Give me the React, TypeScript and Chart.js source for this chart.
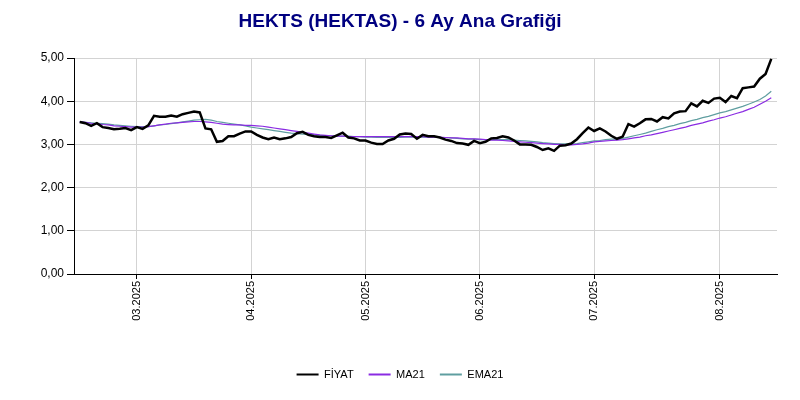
import { useEffect, useRef } from "react";
import { Chart, registerables } from "chart.js";

Chart.register(...registerables);

const titleText = "HEKTS (HEKTAS) - 6 Ay Ana Grafiği";

const priceValues = [
  3.52, 3.49, 3.43, 3.49, 3.40, 3.38, 3.35, 3.36, 3.38, 3.33,
  3.40, 3.36, 3.44, 3.66, 3.64, 3.64, 3.67, 3.64, 3.70, 3.73,
  3.76, 3.74, 3.37, 3.35, 3.06, 3.08, 3.19, 3.19, 3.25, 3.30,
  3.30, 3.22, 3.16, 3.12, 3.16, 3.12, 3.14, 3.17, 3.26, 3.29,
  3.22, 3.19, 3.17, 3.17, 3.15, 3.21, 3.27, 3.16, 3.14, 3.09,
  3.09, 3.04, 3.01, 3.01, 3.09, 3.13, 3.23, 3.25, 3.24, 3.13,
  3.22, 3.19, 3.19, 3.16, 3.11, 3.08, 3.03, 3.02, 2.99, 3.08,
  3.03, 3.06, 3.14, 3.15, 3.19, 3.16, 3.09, 3.00, 3.00, 2.99,
  2.94, 2.87, 2.91, 2.85, 2.97, 2.98, 3.02, 3.12, 3.26, 3.39,
  3.31, 3.37, 3.30, 3.20, 3.13, 3.18, 3.47, 3.41, 3.49, 3.58,
  3.59, 3.53, 3.63, 3.60, 3.72, 3.76, 3.77, 3.95, 3.88, 4.01,
  3.96, 4.06, 4.08, 3.98, 4.12, 4.07, 4.30, 4.32, 4.34, 4.52,
  4.63, 4.98,
];

const ma21Values = [
  3.52, 3.51, 3.49, 3.48, 3.46, 3.45, 3.43, 3.42, 3.41, 3.40,
  3.40, 3.40, 3.41, 3.43, 3.45, 3.47, 3.49, 3.50, 3.51, 3.52,
  3.53, 3.53, 3.52, 3.51, 3.49, 3.47, 3.46, 3.45, 3.45, 3.44,
  3.44, 3.43, 3.42, 3.40, 3.38, 3.36, 3.34, 3.32, 3.30, 3.28,
  3.26, 3.24, 3.22, 3.21, 3.20, 3.19, 3.19, 3.18, 3.18, 3.18,
  3.18, 3.18, 3.18, 3.18, 3.18, 3.18, 3.18, 3.18, 3.18, 3.18,
  3.18, 3.17, 3.17, 3.17, 3.16, 3.15, 3.15, 3.14, 3.13, 3.13,
  3.12, 3.11, 3.10, 3.10, 3.09, 3.08, 3.07, 3.06, 3.05, 3.04,
  3.03, 3.02, 3.01, 3.00, 3.00, 2.99, 2.99, 3.00, 3.01, 3.03,
  3.06, 3.07, 3.08, 3.09, 3.10, 3.11, 3.13, 3.15, 3.17, 3.20,
  3.22, 3.25, 3.28, 3.31, 3.34, 3.37, 3.40, 3.44, 3.47, 3.50,
  3.54, 3.57, 3.61, 3.64, 3.68, 3.72, 3.76, 3.81, 3.86, 3.93,
  4.00, 4.08,
];

const ema21Values = [
  3.52, 3.51, 3.50, 3.49, 3.48, 3.47, 3.45, 3.44, 3.43, 3.42,
  3.41, 3.41, 3.41, 3.43, 3.45, 3.46, 3.48, 3.50, 3.52, 3.54,
  3.56, 3.57, 3.58, 3.56, 3.53, 3.51, 3.49, 3.47, 3.45, 3.43,
  3.40, 3.38, 3.36, 3.34, 3.32, 3.30, 3.28, 3.26, 3.25, 3.24,
  3.23, 3.22, 3.21, 3.20, 3.20, 3.19, 3.19, 3.19, 3.18, 3.18,
  3.17, 3.17, 3.16, 3.16, 3.16, 3.16, 3.16, 3.17, 3.17, 3.17,
  3.17, 3.17, 3.17, 3.16, 3.16, 3.15, 3.14, 3.13, 3.12, 3.12,
  3.11, 3.11, 3.11, 3.11, 3.11, 3.11, 3.10, 3.09, 3.08, 3.07,
  3.06, 3.04, 3.03, 3.02, 3.01, 3.01, 3.01, 3.02, 3.04, 3.06,
  3.08, 3.09, 3.11, 3.12, 3.12, 3.14, 3.17, 3.20, 3.23, 3.26,
  3.30, 3.34, 3.37, 3.41, 3.44, 3.48, 3.51, 3.55, 3.58, 3.62,
  3.65, 3.69, 3.73, 3.76, 3.80, 3.84, 3.88, 3.93, 3.98, 4.04,
  4.12, 4.23,
];

const monthTickIndex = [10, 30, 50, 70, 90, 112];
const monthTickLabels = ["03.2025", "04.2025", "05.2025", "06.2025", "07.2025", "08.2025"];

const seriesNames = ["FİYAT", "MA21", "EMA21"];
const seriesColors = ["#000000", "#8A2BE2", "#5F9EA0"];

const FONT = '"Liberation Sans", Arial, sans-serif';

export default function App() {
  const canvasRef = useRef<HTMLCanvasElement | null>(null);

  useEffect(() => {
    const canvas = canvasRef.current;
    if (!canvas) return;
    const toPoints = (arr: number[]) => arr.map((v, i) => ({ x: i, y: v }));
    const chart = new Chart(canvas, {
      type: "line",
      data: {
        datasets: [
          {
            label: seriesNames[0],
            data: toPoints(priceValues),
            borderColor: seriesColors[0],
            backgroundColor: seriesColors[0],
            borderWidth: 2.5,
            pointRadius: 0,
            tension: 0,
          },
          {
            label: seriesNames[1],
            data: toPoints(ma21Values),
            borderColor: seriesColors[1],
            backgroundColor: seriesColors[1],
            borderWidth: 1.2,
            pointRadius: 0,
            tension: 0,
          },
          {
            label: seriesNames[2],
            data: toPoints(ema21Values),
            borderColor: seriesColors[2],
            backgroundColor: seriesColors[2],
            borderWidth: 1.2,
            pointRadius: 0,
            tension: 0,
          },
        ],
      },
      options: {
        animation: false,
        responsive: false,
        maintainAspectRatio: false,
        layout: { padding: { left: 0, right: 0, top: 0, bottom: 10 } },
        plugins: {
          title: {
            display: true,
            text: titleText,
            color: "#000080",
            font: { family: FONT, size: 19, weight: "bold" },
            padding: { top: 10, bottom: 25.2 },
          },
          legend: {
            position: "bottom",
            labels: {
              boxWidth: 22,
              boxHeight: 2,
              padding: 15,
              color: "#000",
              font: { family: FONT, size: 11 },
              generateLabels: (c: any) => {
                const items = Chart.defaults.plugins.legend.labels.generateLabels(c);
                return items.map((it: any) => ({
                  ...it,
                  fillStyle: it.strokeStyle,
                  lineWidth: 0,
                }));
              },
            },
          },
          tooltip: { enabled: false },
        },
        scales: {
          x: {
            type: "linear",
            min: -1,
            max: 122,
            afterBuildTicks: (s: any) => {
              s.ticks = monthTickIndex.map((v) => ({ value: v }));
            },
            afterFit: (s: any) => {
              s.height = 80;
            },
            ticks: {
              autoSkip: false,
              minRotation: 90,
              maxRotation: 90,
              padding: 2,
              color: "#000",
              font: { family: FONT, size: 11 },
              callback: (v: any) => {
                const k = monthTickIndex.indexOf(Number(v));
                return k >= 0 ? monthTickLabels[k] : "";
              },
            },
            grid: { color: "#d3d3d3", tickColor: "#000", tickLength: 5 },
            border: { color: "#000" },
          },
          y: {
            min: 0,
            max: 5,
            afterFit: (s: any) => {
              s.width = 74;
            },
            ticks: {
              stepSize: 1,
              padding: 3,
              color: "#000",
              font: { family: FONT, size: 12 },
              callback: (v: any) => Number(v).toFixed(2).replace(".", ","),
            },
            grid: { color: "#d3d3d3", tickColor: "#000", tickLength: 7 },
            border: { color: "#000" },
          },
          yRightSpace: {
            type: "linear",
            position: "right",
            display: true,
            afterFit: (s: any) => {
              s.width = 23;
            },
            ticks: { display: false },
            grid: { display: false, drawTicks: false },
            border: { display: false },
          },
        },
      },
    } as any);
    return () => chart.destroy();
  }, []);

  return (
    <div
      style={{
        position: "fixed",
        left: 0,
        top: 0,
        width: 800,
        height: 400,
        background: "#fff",
      }}
    >
      <canvas ref={canvasRef} width={800} height={400} style={{ width: 800, height: 400, display: "block" }} />
    </div>
  );
}
